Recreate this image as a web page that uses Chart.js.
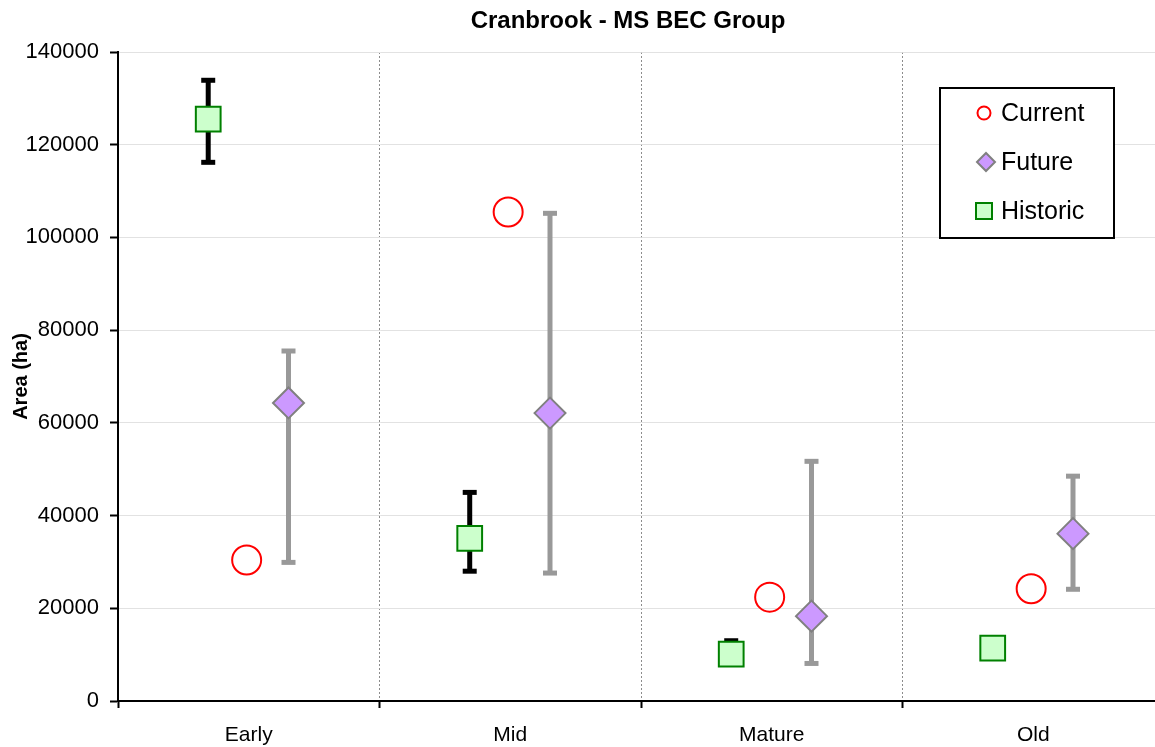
<!DOCTYPE html>
<html>
<head>
<meta charset="utf-8">
<script src="https://cdn.jsdelivr.net/npm/chart.js@4.4.1/dist/chart.umd.min.js"></script>
<style>
  html, body { margin: 0; padding: 0; background: #fff; overflow: hidden; }
</style>
</head>
<body>
<canvas id="chart" width="1256" height="747"></canvas>
<script>
// data (ha)
const categories = ['Early', 'Mid', 'Mature', 'Old'];
const current = [30400, 105500, 22400, 24200];
const future = [64300, 62100, 18300, 36100];
const futureLow = [29900, 27600, 8100, 24100];
const futureHigh = [75500, 105200, 51700, 48500];
const historic = [125500, 35100, 10100, 11400];
const historicLow = [116200, 28000, 9000, 10500];
const historicHigh = [133900, 45000, 13000, 12200];
const yTicks = [0, 20000, 40000, 60000, 80000, 100000, 120000, 140000];
const chartTitle = 'Cranbrook - MS BEC Group';

// where each series sits inside its category
const offHistoric = -0.155, offCurrent = -0.008, offFuture = 0.152;
const FONT = "'Liberation Sans', Arial, sans-serif";

Chart.defaults.font.family = FONT;
Chart.defaults.color = '#000';

function errorBar(x, lo, hi, color) {
    return {
        type: 'line',
        data: [{ x: x, y: lo }, { x: x, y: hi }],
        borderColor: color,
        borderWidth: 5,
        borderCapStyle: 'butt',
        pointStyle: 'line',
        pointRadius: 7,
        pointHoverRadius: 7,
        pointBorderWidth: 5,
        pointBorderColor: color,
        pointBackgroundColor: color,
        fill: false,
        order: 2
    };
}

const datasets = [];
categories.forEach((c, i) => {
    datasets.push(errorBar(i + 0.5 + offFuture, futureLow[i], futureHigh[i], '#999999'));
    datasets.push(errorBar(i + 0.5 + offHistoric, historicLow[i], historicHigh[i], '#000000'));
});

datasets.push({
    type: 'scatter', label: 'Current',
    data: current.map((v, i) => ({ x: i + 0.5 + offCurrent, y: v })),
    pointStyle: 'circle', pointRadius: 14.5, pointHoverRadius: 14.5, pointBorderWidth: 2,
    pointBorderColor: '#ff0000', pointBackgroundColor: 'rgba(255,255,255,0)', order: 1
});
datasets.push({
    type: 'scatter', label: 'Future',
    data: future.map((v, i) => ({ x: i + 0.5 + offFuture, y: v })),
    pointStyle: 'rectRot', pointRadius: 15.5, pointHoverRadius: 15.5, pointBorderWidth: 2,
    pointBorderColor: '#808080', pointBackgroundColor: '#cc99ff', order: 1
});
datasets.push({
    type: 'scatter', label: 'Historic',
    data: historic.map((v, i) => ({ x: i + 0.5 + offHistoric, y: v })),
    pointStyle: 'rect', pointRadius: 17.5, pointHoverRadius: 17.5, pointBorderWidth: 2,
    pointBorderColor: '#008000', pointBackgroundColor: '#ccffcc', order: 1
});

// title over the whole picture and boxed legend inside the plot, top right
const overlay = {
    id: 'overlay',
    afterDraw(chart) {
        const ctx = chart.ctx;
        ctx.save();
        ctx.fillStyle = '#000';
        ctx.font = 'bold 24px ' + FONT;
        ctx.textAlign = 'center';
        ctx.textBaseline = 'middle';
        ctx.fillText(chartTitle, chart.width / 2, 21);

        const left = 940, top = 88, w = 174, h = 150;
        ctx.fillStyle = '#fff';
        ctx.fillRect(left, top, w, h);
        ctx.lineWidth = 2;
        ctx.strokeStyle = '#000';
        ctx.strokeRect(left, top, w, h);

        const mx = 984, tx = 1001;
        const rows = [113, 162, 211];

        // Current
        ctx.beginPath();
        ctx.arc(mx, rows[0], 6.5, 0, Math.PI * 2);
        ctx.strokeStyle = '#ff0000';
        ctx.stroke();
        // Future
        ctx.beginPath();
        ctx.moveTo(mx + 2 - 9, rows[1]);
        ctx.lineTo(mx + 2, rows[1] - 9);
        ctx.lineTo(mx + 2 + 9, rows[1]);
        ctx.lineTo(mx + 2, rows[1] + 9);
        ctx.closePath();
        ctx.fillStyle = '#cc99ff';
        ctx.fill();
        ctx.strokeStyle = '#808080';
        ctx.stroke();
        // Historic
        ctx.fillStyle = '#ccffcc';
        ctx.fillRect(mx - 8, rows[2] - 8, 16, 16);
        ctx.strokeStyle = '#008000';
        ctx.strokeRect(mx - 8, rows[2] - 8, 16, 16);

        ctx.fillStyle = '#000';
        ctx.font = '25px ' + FONT;
        ctx.textAlign = 'left';
        ['Current', 'Future', 'Historic'].forEach((t, k) => ctx.fillText(t, tx, rows[k] + 1));
        ctx.restore();
    }
};

new Chart(document.getElementById('chart'), {
    type: 'scatter',
    data: { datasets: datasets },
    options: {
        responsive: false,
        animation: false,
        events: [],
        layout: { padding: { left: 0, right: 92, top: 52, bottom: 0 } },
        plugins: {
            legend: { display: false },
            tooltip: { enabled: false },
            title: { display: false }
        },
        scales: {
            x: {
                type: 'linear',
                min: 0,
                max: 4,
                afterFit: s => { s.height = 46; },
                ticks: {
                    stepSize: 0.5,
                    autoSkip: false,
                    maxRotation: 0,
                    padding: 15,
                    color: '#000',
                    font: { size: 21 },
                    callback: v => (v % 1 === 0.5) ? categories[Math.floor(v)] : ''
                },
                grid: {
                    lineWidth: 1,
                    color: c => (c.tick && c.tick.value % 1 === 0 && c.tick.value > 0 && c.tick.value < 4) ? '#8c8c8c' : 'rgba(0,0,0,0)',
                    tickColor: c => (c.tick && c.tick.value % 1 === 0) ? '#000' : 'rgba(0,0,0,0)',
                    tickWidth: 2,
                    tickLength: 7
                },
                border: { color: '#000', width: 2, dash: [2, 2] }
            },
            y: {
                min: 0,
                max: 140000,
                afterFit: s => { s.width = 118; },
                afterBuildTicks: s => { s.ticks = yTicks.map(v => ({ value: v })); },
                ticks: {
                    padding: 11,
                    color: '#000',
                    font: { size: 22 },
                    callback: v => String(v)
                },
                grid: {
                    color: '#e2e2e2',
                    lineWidth: 1,
                    tickColor: '#000',
                    tickWidth: 2,
                    tickLength: 8
                },
                border: { color: '#000', width: 2 },
                title: {
                    display: true,
                    text: 'Area (ha)',
                    color: '#000',
                    font: { size: 20, weight: 'bold' },
                    padding: { top: 9, bottom: 0 }
                }
            }
        }
    },
    plugins: [overlay]
});
</script>
</body>
</html>
